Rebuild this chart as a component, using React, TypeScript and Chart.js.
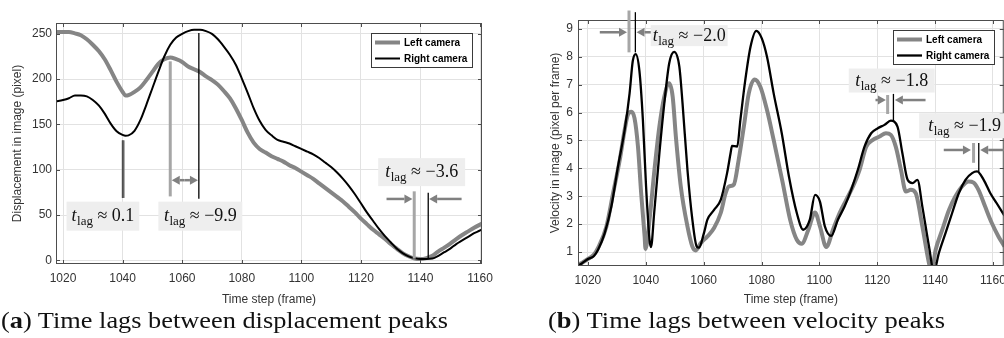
import React, { useEffect, useRef } from "react";
import { Chart, registerables } from "chart.js";
Chart.register(...registerables);

// ---------------- data ----------------
const seriesLabels = ["Left camera", "Right camera"];

const dispFrames = [
  1017.6, 1020, 1022, 1024, 1026, 1028, 1030, 1032, 1034, 1036, 1038, 1040, 1041,
  1042, 1044, 1046, 1048, 1050, 1052, 1054, 1056, 1058, 1060, 1062, 1064, 1066, 1068,
  1070, 1072, 1074, 1076, 1078, 1080, 1082, 1084, 1086, 1088, 1090, 1092, 1094, 1096,
  1098, 1100, 1102, 1104, 1106, 1108, 1110, 1112, 1114, 1116, 1118, 1120, 1122, 1124,
  1126, 1128, 1130, 1132, 1134, 1136, 1138, 1140, 1142, 1144, 1146, 1148, 1150, 1152,
  1154, 1156, 1158, 1160, 1161,
];
const dispLeftCam = [
  252, 252, 252, 250.5, 248.5, 244, 238, 231, 222, 210, 197, 186, 182,
  182.5, 186, 191, 199, 208, 217, 222, 224, 222, 219, 214, 211, 208, 203,
  199, 194, 187, 179, 168, 155, 141, 130, 123, 119, 115, 112, 109, 105,
  102, 98, 94, 90, 85, 80, 75, 70, 65, 59, 53, 46, 40, 34,
  29, 24, 18, 13, 8, 4.5, 2, 1.5, 2.5, 5, 10, 14, 18.5, 23.5,
  28, 32, 36, 39.5, 41,
];
const dispRightCam = [
  175.5, 177, 179, 182, 182, 181, 177, 171, 162, 151, 142.5, 138.5, 137.6,
  138, 143, 155, 172, 190, 208, 225, 238, 246, 250, 253, 254.5, 254.5, 253,
  250, 244, 236, 227, 216, 201, 185, 168, 154, 144, 138, 133, 131, 129,
  126, 123, 120, 117, 113, 108, 103, 97, 90, 82, 73, 63, 53, 44,
  35, 27, 20, 13, 8, 4.5, 2.5, 1.5, 1.5, 2, 5, 9, 13, 18,
  22, 26, 30, 33, 35,
];
const dispXTicks = [1020, 1040, 1060, 1080, 1100, 1120, 1140, 1160];
const dispYTicks = [0, 50, 100, 150, 200, 250];

const velLeftFrames = [
  1016.5, 1018, 1020, 1022, 1023.5, 1026.4, 1028.7, 1031, 1032.7, 1033.8, 1035, 1036.1,
  1037.3, 1038.4, 1039.6, 1039.9, 1041.3, 1043, 1044.7, 1046.4, 1048.1, 1049.3, 1050.4,
  1052.1, 1054.4, 1056.1, 1057.3, 1059, 1061.3, 1063.6, 1065.9, 1067.6, 1068.7, 1070.4,
  1072.1, 1073.9, 1075.6, 1077.6, 1079.6, 1081.9, 1084.2, 1087.3, 1089.9, 1092.2, 1093.9,
  1096.2, 1098.5, 1100.2, 1102.4, 1104.7, 1107, 1109.3, 1111.6, 1113.9, 1116.2, 1118.5,
  1120.8, 1123, 1124.7, 1126.4, 1128.2, 1129.9, 1131.6, 1133.3, 1135.6, 1137.9, 1138.8,
  1140.2, 1142.5, 1144.8, 1147, 1149.3, 1151.6, 1153.3, 1155, 1157.3, 1159.6, 1161.9, 1164,
];
const velLeftCam = [
  0.55, 0.62, 0.75, 0.9, 1.15, 1.92, 3.11, 4.3, 5.38, 5.92, 6.03, 5.8,
  4.78, 3.11, 1.56, 1.11, 2.16, 3.95, 5.5, 6.57, 7.05, 6.57, 5.14,
  3.35, 1.92, 1.2, 1.06, 1.32, 1.56, 1.86, 2.4, 3.11, 3.35, 3.41,
  4.3, 5.5, 6.69, 7.19, 6.93, 6.09, 5.02, 3.5, 2.16, 1.44, 1.3,
  1.8, 2.42, 1.92, 1.18, 1.8, 2.4, 2.87, 3.35, 3.95, 4.78, 5.02,
  5.14, 5.26, 5.2, 4.78, 3.95, 3.17, 3.23, 3.11, 1.92, 0.6, 0.3,
  1.08, 1.8, 2.51, 2.99, 3.35, 3.53, 3.49, 3.23, 2.63, 2.04, 1.56, 1.2,
];
const velRightFrames = [
  1016.5, 1018, 1020, 1022, 1023.5, 1025.8, 1028.1, 1030.4, 1032.7, 1034.4, 1035.5, 1036.5,
  1037.8, 1039, 1040.1, 1041.3, 1041.8, 1042.9, 1044.7, 1046.4, 1048.1, 1049.8, 1051.6,
  1052.7, 1054.4, 1056.1, 1057.6, 1058.4, 1060.1, 1061.3, 1063.6, 1065.9, 1068.1, 1069.3,
  1069.8, 1071.6, 1072.7, 1074.4, 1076.2, 1078.2, 1080.1, 1081.9, 1084.2, 1087, 1089.5,
  1092.2, 1094.4, 1096.7, 1098.5, 1100.2, 1101.9, 1104.1, 1106.4, 1108.7, 1111, 1113.3,
  1115.6, 1117.9, 1120.2, 1122.5, 1124.7, 1127, 1128.7, 1130.5, 1132.2, 1133.9, 1135.6,
  1137.9, 1139.6, 1141.3, 1143.6, 1145.9, 1148.2, 1150.5, 1152.8, 1154.5, 1156.8, 1159.1,
  1161.3, 1164,
];
const velRightCam = [
  0.5, 0.6, 0.75, 0.85, 1.08, 1.68, 2.63, 4.07, 5.38, 6.69, 7.85, 8.1,
  7.5, 5.74, 3.35, 1.44, 1.18, 2.4, 4.54, 6.33, 7.77, 8.18, 7.65,
  6.34, 3.95, 2.16, 1.2, 1.16, 1.68, 2.16, 2.51, 2.87, 3.83, 4.54,
  4.81, 4.78, 5.74, 7.17, 8.36, 8.93, 8.66, 8.0, 6.69, 5.26, 3.7,
  2.4, 1.8, 2.16, 3.05, 2.81, 1.92, 1.58, 2.16, 2.63, 3.23, 3.95,
  4.78, 5.26, 5.44, 5.56, 5.71, 5.5, 4.54, 3.59, 3.47, 3.59, 2.63,
  1.2, 0.3, 0.96, 1.68, 2.4, 3.11, 3.59, 3.83, 3.89, 3.59, 3.11,
  2.75, 2.3,
];
const velXTicks = [1020, 1040, 1060, 1080, 1100, 1120, 1140, 1160];
const velYTicks = [1, 2, 3, 4, 5, 6, 7, 8, 9];

// ---------------- annotations (data coordinates) ----------------
const GRAY_MARK = "#a6a6a6";
const ARROW = "#808080";
const dispAnnot = {
  lines: [
    { x: 1040.2, y1: 132.5, y2: 68.9, color: "#8a8a8a", width: 3 },
    { x: 1040.1, y1: 132.5, y2: 68.9, color: "#3a3a3a", width: 1.2 },
    { x: 1056, y1: 219.7, y2: 70.6, color: GRAY_MARK, width: 3 },
    { x: 1065.6, y1: 251, y2: 68, color: "#000", width: 1.3 },
    { x: 1137.9, y1: 76.2, y2: 1.9, color: GRAY_MARK, width: 3 },
    { x: 1142.6, y1: 74.7, y2: 1.9, color: "#000", width: 1.3 },
  ],
  arrows: [
    { from: 1060.8, to: 1056.5, y: 88.5 },
    { from: 1060.8, to: 1065.3, y: 88.5 },
    { from: 1128.6, to: 1137.3, y: 67.8 },
    { from: 1153.8, to: 1142.9, y: 67.8 },
  ],
  labels: [
    { x: 1033.4, y: 48.8, value: "0.1", padX: 5, h: 29 },
    { x: 1066.1, y: 48.8, value: "−9.9", padX: 5.5, h: 29 },
    { x: 1140.4, y: 97.4, value: "−3.6", padX: 7, h: 28 },
  ],
};
const velAnnot = {
  lines: [
    { x: 1034.2, y1: 9.66, y2: 8.16, color: GRAY_MARK, width: 3 },
    { x: 1036.4, y1: 9.6, y2: 8.16, color: "#000", width: 1.3 },
    { x: 1123.6, y1: 6.63, y2: 5.95, color: GRAY_MARK, width: 3 },
    { x: 1125.6, y1: 6.67, y2: 5.66, color: "#000", width: 1.3 },
    { x: 1153.3, y1: 4.91, y2: 4.2, color: GRAY_MARK, width: 3 },
    { x: 1155.1, y1: 4.91, y2: 3.84, color: "#000", width: 1.3 },
  ],
  arrows: [
    { from: 1024.1, to: 1033.5, y: 8.88 },
    { from: 1041.9, to: 1036.8, y: 8.88 },
    { from: 1119.4, to: 1123.0, y: 6.45 },
    { from: 1136.7, to: 1126.1, y: 6.45 },
    { from: 1143.0, to: 1152.4, y: 4.66 },
    { from: 1166, to: 1155.6, y: 4.66 },
  ],
  labels: [
    { x: 1055.0, y: 8.76, value: "−2.0", padX: 2, h: 21 },
    { x: 1125.0, y: 7.15, value: "−1.8", padX: 6.5, h: 24 },
    { x: 1150.2, y: 5.53, value: "−1.9", padX: 9, h: 25 },
  ],
};

const SANS = "'Liberation Sans', Arial, sans-serif";
const SERIF = "'Liberation Serif', 'Times New Roman', serif";

function drawArrow(ctx: CanvasRenderingContext2D, x1: number, x2: number, y: number) {
  const dir = Math.sign(x2 - x1);
  const head = 8;
  const hh = 4.5;
  ctx.strokeStyle = ARROW;
  ctx.fillStyle = ARROW;
  ctx.lineWidth = 2.5;
  ctx.beginPath();
  ctx.moveTo(x1, y);
  ctx.lineTo(x2 - dir * head, y);
  ctx.stroke();
  ctx.beginPath();
  ctx.moveTo(x2, y);
  ctx.lineTo(x2 - dir * head, y - hh);
  ctx.lineTo(x2 - dir * head, y + hh);
  ctx.closePath();
  ctx.fill();
}

function drawLag(ctx: CanvasRenderingContext2D, cx: number, cy: number, value: string, padX: number, h: number) {
  const fIt = `italic 18px ${SERIF}`;
  const fBig = `18px ${SERIF}`;
  const fSmall = `13px ${SERIF}`;
  ctx.font = fIt;
  const wt = ctx.measureText("t").width;
  ctx.font = fSmall;
  const wl = ctx.measureText("lag").width;
  ctx.font = fBig;
  const rest = " ≈ " + value;
  const wr = ctx.measureText(rest).width;
  const total = wt + 0.5 + wl + wr;
  const bx = cx - total / 2 - padX;
  ctx.fillStyle = "#eeeeee";
  ctx.fillRect(bx, cy - h / 2, total + 2 * padX, h);
  const base = cy + 5;
  let x0 = cx - total / 2;
  ctx.fillStyle = "#111";
  ctx.textAlign = "left";
  ctx.textBaseline = "alphabetic";
  ctx.font = fIt;
  ctx.fillText("t", x0, base);
  x0 += wt + 0.5;
  ctx.font = fSmall;
  ctx.fillText("lag", x0, base + 4);
  x0 += wl;
  ctx.font = fBig;
  ctx.fillText(rest, x0, base);
}

function makePlugin(annot: any, xTicks: number[], yTicks: number[]) {
  return {
    id: "figureExtras",
    afterDraw(chart: any) {
      const { ctx, chartArea: a } = chart;
      const xs = chart.scales.x;
      const ys = chart.scales.y;
      ctx.save();
      // axes box
      ctx.strokeStyle = "#4d4d4d";
      ctx.lineWidth = 1;
      ctx.strokeRect(a.left + 0.5, a.top + 0.5, a.right - a.left - 1, a.bottom - a.top - 1);
      // inward ticks on all sides
      ctx.beginPath();
      xTicks.forEach((v) => {
        const p = Math.round(xs.getPixelForValue(v)) + 0.5;
        ctx.moveTo(p, a.bottom);
        ctx.lineTo(p, a.bottom - 4);
        ctx.moveTo(p, a.top);
        ctx.lineTo(p, a.top + 4);
      });
      yTicks.forEach((v) => {
        const p = Math.round(ys.getPixelForValue(v)) + 0.5;
        ctx.moveTo(a.left, p);
        ctx.lineTo(a.left + 4, p);
        ctx.moveTo(a.right, p);
        ctx.lineTo(a.right - 4, p);
      });
      ctx.stroke();

      // annotation lines
      annot.lines.forEach((l: any) => {
        const x = xs.getPixelForValue(l.x);
        ctx.strokeStyle = l.color;
        ctx.lineWidth = l.width;
        ctx.beginPath();
        ctx.moveTo(x, ys.getPixelForValue(l.y1));
        ctx.lineTo(x, ys.getPixelForValue(l.y2));
        ctx.stroke();
      });
      annot.arrows.forEach((r: any) => {
        drawArrow(ctx, xs.getPixelForValue(r.from), xs.getPixelForValue(r.to), ys.getPixelForValue(r.y));
      });
      annot.labels.forEach((lb: any) => {
        drawLag(ctx, xs.getPixelForValue(lb.x), ys.getPixelForValue(lb.y), lb.value, lb.padX, lb.h);
      });

      // legend
      const lw = 101;
      const lh = 34;
      const lx = Math.round(a.right - 10 - lw);
      const ly = Math.round(a.top + 10);
      ctx.fillStyle = "#fff";
      ctx.fillRect(lx, ly, lw, lh);
      ctx.strokeStyle = "#3a3a3a";
      ctx.lineWidth = 1;
      ctx.strokeRect(lx + 0.5, ly + 0.5, lw, lh);
      chart.data.datasets.forEach((ds: any, i: number) => {
        const yy = ly + 9.5 + i * 16;
        ctx.strokeStyle = ds.borderColor;
        ctx.lineWidth = ds.borderWidth;
        ctx.beginPath();
        ctx.moveTo(lx + 4, yy);
        ctx.lineTo(lx + 29, yy);
        ctx.stroke();
        ctx.fillStyle = "#000";
        ctx.font = `bold 10px ${SANS}`;
        ctx.textAlign = "left";
        ctx.textBaseline = "middle";
        ctx.fillText(ds.label, lx + 33, yy + 0.5);
      });
      ctx.restore();
    },
  };
}

function makeConfig(opts: {
  leftX: number[]; leftY: number[]; rightX: number[]; rightY: number[];
  xMin: number; xMax: number; yMin: number; yMax: number;
  xTicks: number[]; yTicks: number[]; yTitle: string;
  yAxisWidth: number; xAxisHeight: number; padTop: number; padRight: number;
  yTickPad: number; annot: any; grayWidth: number; blackWidth: number;
}): any {
  const grid = { color: "#e2e2e2", lineWidth: 1, drawTicks: false };
  return {
    type: "line",
    data: {
      datasets: [
        {
          label: seriesLabels[0],
          data: opts.leftX.map((x, i) => ({ x, y: opts.leftY[i] })),
          borderColor: "#858585",
          borderWidth: opts.grayWidth,
          pointRadius: 0,
          cubicInterpolationMode: "monotone",
          order: 1,
          clip: 0,
        },
        {
          label: seriesLabels[1],
          data: opts.rightX.map((x, i) => ({ x, y: opts.rightY[i] })),
          borderColor: "#000000",
          borderWidth: opts.blackWidth,
          pointRadius: 0,
          cubicInterpolationMode: "monotone",
          order: 0,
          clip: 0,
        },
      ],
    },
    options: {
      responsive: false,
      animation: false,
      events: [],
      layout: { padding: { left: 0, top: opts.padTop, right: opts.padRight, bottom: 0 } },
      plugins: { legend: { display: false }, tooltip: { enabled: false } },
      scales: {
        x: {
          type: "linear",
          min: opts.xMin,
          max: opts.xMax,
          grid,
          border: { display: false },
          afterBuildTicks: (s: any) => { s.ticks = opts.xTicks.map((v) => ({ value: v })); },
          afterFit: (s: any) => { s.height = opts.xAxisHeight; },
          ticks: {
            color: "#333", font: { family: SANS, size: 12 }, padding: 7, maxRotation: 0, autoSkip: false,
            callback: (v: any) => String(v),
          },
          title: { display: true, text: "Time step (frame)", color: "#333", font: { family: SANS, size: 12 }, padding: { top: 0, bottom: 4.8 } },
        },
        y: {
          type: "linear",
          min: opts.yMin,
          max: opts.yMax,
          grid,
          border: { display: false },
          afterBuildTicks: (s: any) => { s.ticks = opts.yTicks.map((v) => ({ value: v })); },
          afterFit: (s: any) => { s.width = opts.yAxisWidth; },
          ticks: { color: "#333", font: { family: SANS, size: 12 }, padding: opts.yTickPad, callback: (v: any) => String(v) },
          title: { display: true, text: opts.yTitle, color: "#333", font: { family: SANS, size: 12 }, padding: { top: 10, bottom: 0 } },
        },
      },
    },
    plugins: [makePlugin(opts.annot, opts.xTicks, opts.yTicks)],
  };
}

export default function App() {
  const leftRef = useRef<HTMLCanvasElement>(null);
  const rightRef = useRef<HTMLCanvasElement>(null);
  const capA = useRef<HTMLSpanElement>(null);
  const capB = useRef<HTMLSpanElement>(null);

  useEffect(() => {
    const c1 = new Chart(leftRef.current as HTMLCanvasElement, makeConfig({
      leftX: dispFrames, leftY: dispLeftCam, rightX: dispFrames, rightY: dispRightCam,
      xMin: 1017.65, xMax: 1160.65, yMin: -4, yMax: 262,
      xTicks: dispXTicks, yTicks: dispYTicks, yTitle: "Displacement in image (pixel)",
      yAxisWidth: 56, xAxisHeight: 48, padTop: 23, padRight: 23, yTickPad: 4,
      annot: dispAnnot, grayWidth: 4, blackWidth: 2,
    }));
    const c2 = new Chart(rightRef.current as HTMLCanvasElement, makeConfig({
      leftX: velLeftFrames, leftY: velLeftCam, rightX: velRightFrames, rightY: velRightCam,
      xMin: 1016.57, xMax: 1163.74, yMin: 0.5, yMax: 9.32,
      xTicks: velXTicks, yTicks: velYTicks, yTitle: "Velocity in image (pixel per frame)",
      yAxisWidth: 40, xAxisHeight: 46, padTop: 20, padRight: 6, yTickPad: 5,
      annot: velAnnot, grayWidth: 4, blackWidth: 2.3,
    }));
    const fit = (el: HTMLSpanElement | null, target: number) => {
      if (!el) return;
      el.style.transform = "none";
      const w = el.getBoundingClientRect().width;
      if (w > 0) el.style.transform = `scaleX(${target / w})`;
    };
    fit(capA.current, 447);
    fit(capB.current, 397);
    return () => { c1.destroy(); c2.destroy(); };
  }, []);

  const capStyle: React.CSSProperties = {
    position: "absolute",
    top: 308,
    fontFamily: SERIF,
    fontSize: 23,
    lineHeight: "26px",
    color: "#111",
    whiteSpace: "nowrap",
    display: "inline-block",
    transformOrigin: "left center",
  };

  return (
    <div style={{ position: "fixed", left: 0, top: 0, width: 1004, height: 338, overflow: "hidden", background: "#fff" }}>
      <canvas ref={leftRef} width={505} height={312} style={{ position: "absolute", left: 0, top: 0, width: 505, height: 312 }} />
      <canvas ref={rightRef} width={475} height={312} style={{ position: "absolute", left: 538, top: 0, width: 475, height: 312 }} />
      <span ref={capA} style={{ ...capStyle, left: 1 }}>(<b>a</b>) Time lags between displacement peaks</span>
      <span ref={capB} style={{ ...capStyle, left: 548 }}>(<b>b</b>) Time lags between velocity peaks</span>
    </div>
  );
}
